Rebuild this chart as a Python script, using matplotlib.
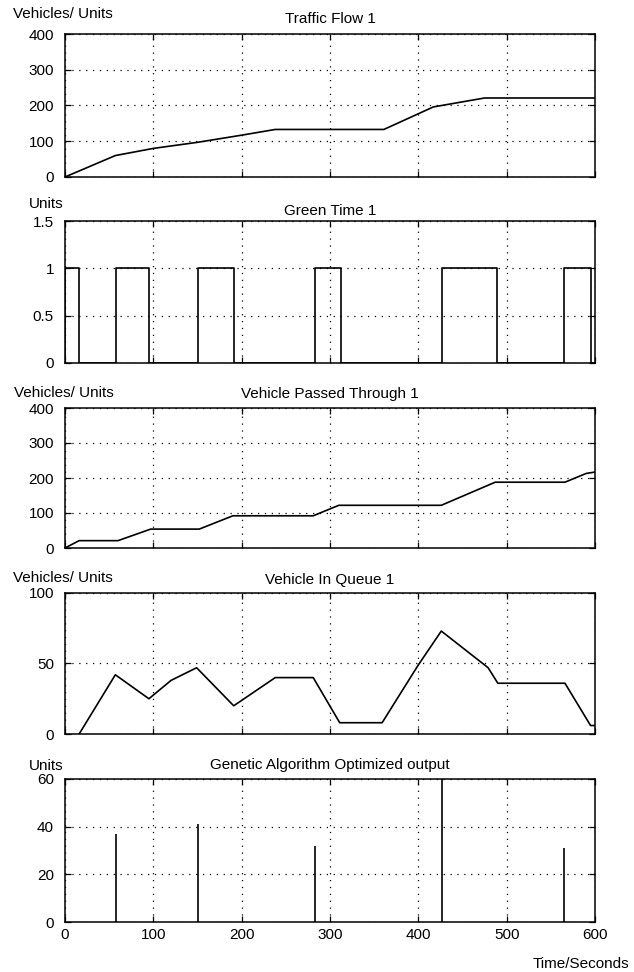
import matplotlib
matplotlib.use("Agg")
import matplotlib.pyplot as plt

plt.rcParams['font.family'] = ['Liberation Sans', 'DejaVu Sans']

# ---------------- data ----------------
time_ticks = [0, 100, 200, 300, 400, 500, 600]

flow_t = [0, 57, 100, 150, 200, 238, 361, 417, 475, 600]
flow_v = [0, 60, 80, 97, 117, 133, 133, 196, 221, 221]

green_on = [0, 58, 150, 283, 427, 565]
green_off = [16, 95, 191, 312, 489, 595]

passed_t = [0, 16, 60, 97, 152, 190, 281, 310, 426, 487, 566, 590, 600]
passed_v = [0, 21, 21, 54, 54, 92, 92, 122, 122, 188, 188, 213, 217]

queue_t = [16, 57, 95, 120, 149, 191, 238, 281, 311, 359, 400, 426, 479, 490, 566, 595, 600]
queue_v = [0, 42, 25, 38, 47, 20, 40, 40, 8, 8, 49, 73, 47, 36, 36, 6, 6]

ga_t = [58, 150, 283, 427, 565]
ga_v = [37, 41, 32, 60, 31]

titles = ["Traffic Flow 1", "Green Time 1", "Vehicle Passed Through 1",
          "Vehicle In Queue 1", "Genetic Algorithm Optimized output"]
ylabels = ["Vehicles/ Units", "Units", "Vehicles/ Units", "Vehicles/ Units", "Units"]
yticks = [[0, 100, 200, 300, 400], [0, 0.5, 1, 1.5], [0, 100, 200, 300, 400],
          [0, 50, 100], [0, 20, 40, 60]]
yticklabels = [["0", "100", "200", "300", "400"], ["0", "0.5", "1", "1.5"],
               ["0", "100", "200", "300", "400"], ["0", "50", "100"],
               ["0", "20", "40", "60"]]

# ---------------- layout (pixels) ----------------
W, H = 634, 972
fig = plt.figure(figsize=(W / 100, H / 100), dpi=100)
boxes = [(34, 177), (221, 363), (408, 548), (593, 734), (779, 922)]
title_base = [23, 215, 398, 584, 769]
label_base = [18, 208, 397, 582, 770]
label_left = [13, 29, 14, 13, 29]
AX_L, AX_R = 65, 595
FS = 11

axes = []
for i, (top, bot) in enumerate(boxes):
    ax = fig.add_axes([AX_L / W, 1 - bot / H, (AX_R - AX_L) / W, (bot - top) / H])
    ax.set_xlim(0, 600)
    ax.set_ylim(yticks[i][0], yticks[i][-1])
    ax.set_xticks(time_ticks)
    ax.set_yticks(yticks[i])
    ax.set_yticklabels(yticklabels[i])
    if i < 4:
        ax.set_xticklabels([])
    else:
        ax.set_xticklabels([str(t) for t in time_ticks])
    ax.tick_params(axis='both', direction='in', length=4, width=0.9,
                   top=True, right=True, labelsize=FS, colors='black')
    ax.tick_params(axis='y', pad=8)
    ax.tick_params(axis='x', pad=4)
    ax.grid(True, color='black', linestyle=(0, (1, 4.5)), linewidth=0.9)
    for s in ax.spines.values():
        s.set_linewidth(1.1)
        s.set_color('black')
    fig.text((AX_L + AX_R) / 2 / W, 1 - title_base[i] / H, titles[i],
             ha='center', va='baseline', fontsize=FS)
    fig.text(label_left[i] / W, 1 - label_base[i] / H, ylabels[i],
             ha='left', va='baseline', fontsize=FS)
    axes.append(ax)

lw = 1.2
axes[0].plot(flow_t, flow_v, color='black', linewidth=lw)

gx, gy = [], []
for on, off in zip(green_on, green_off):
    gx += [on, on, off, off]
    gy += [0, 1, 1, 0]
gx.append(600)
gy.append(0)
axes[1].plot(gx, gy, color='black', linewidth=lw)

axes[2].plot(passed_t, passed_v, color='black', linewidth=lw)
axes[3].plot(queue_t, queue_v, color='black', linewidth=lw)
axes[4].vlines(ga_t, 0, ga_v, color='black', linewidth=lw)

fig.text(533 / W, 1 - 968 / H, "Time/Seconds", ha='left', va='baseline', fontsize=FS)

fig.savefig("out.png", dpi=100, facecolor='white')
